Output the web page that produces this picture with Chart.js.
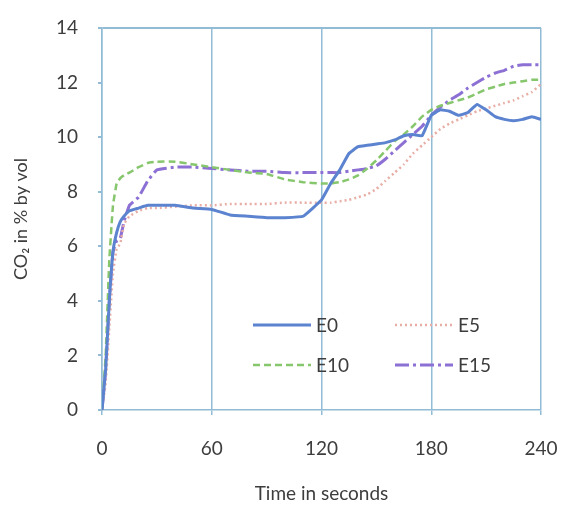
<!DOCTYPE html>
<html>
<head>
<meta charset="utf-8">
<script src="https://cdn.jsdelivr.net/npm/chart.js"></script>
<style>
  body { margin: 0; background: #fff; }
</style>
</head>
<body>
<canvas id="myChart" width="561" height="509"></canvas>
<script>
/* DATA */
const seconds = [0, 2, 4, 6, 8, 10, 12, 15, 20, 25, 30, 40, 50, 60, 70, 80, 90, 100, 110, 120,
  125, 130, 135, 140, 145, 150, 155, 160, 165, 170, 175, 180, 185, 190, 195, 200, 205, 210,
  215, 220, 225, 230, 235, 240]

const e0 = [0, 1.5, 4.0, 5.8, 6.5, 6.9, 7.1, 7.3, 7.4, 7.5, 7.5, 7.5, 7.4, 7.35, 7.15, 7.1, 7.05, 7.05, 7.1, 7.7,
  8.3, 8.8, 9.4, 9.65, 9.7, 9.75, 9.8, 9.9, 10.05, 10.1, 10.05, 10.8, 11.0, 10.95, 10.8, 10.9, 11.2, 11.0,
  10.75, 10.65, 10.6, 10.65, 10.75, 10.65]

const e5 = [0, 1.0, 3.0, 5.0, 5.9, 6.1, 6.8, 7.1, 7.3, 7.4, 7.4, 7.45, 7.5, 7.5, 7.55, 7.55, 7.55, 7.6, 7.6, 7.6,
  7.6, 7.65, 7.7, 7.8, 7.9, 8.1, 8.4, 8.7, 9.0, 9.4, 9.7, 10.0, 10.3, 10.5, 10.65, 10.8, 10.95, 11.05,
  11.15, 11.25, 11.35, 11.5, 11.65, 11.95]

const e10 = [0, 2.0, 5.5, 7.5, 8.3, 8.5, 8.6, 8.7, 8.9, 9.05, 9.1, 9.1, 9.0, 8.9, 8.8, 8.7, 8.65, 8.45, 8.35, 8.3,
  8.3, 8.35, 8.45, 8.6, 8.85, 9.15, 9.5, 9.85, 10.1, 10.4, 10.75, 11.0, 11.15, 11.25, 11.35, 11.45, 11.6, 11.75,
  11.85, 11.95, 12.0, 12.05, 12.1, 12.1]

const e15 = [0, 1.5, 4.0, 5.8, 6.2, 6.3, 6.9, 7.5, 7.8, 8.4, 8.8, 8.9, 8.9, 8.85, 8.8, 8.75, 8.75, 8.7, 8.7, 8.7,
  8.7, 8.7, 8.75, 8.8, 8.85, 8.95, 9.2, 9.5, 9.8, 10.1, 10.4, 10.8, 11.1, 11.35, 11.55, 11.8, 12.0, 12.2,
  12.35, 12.45, 12.6, 12.65, 12.65, 12.65]

const xTicks = [0, 60, 120, 180, 240]
const yTicks = [0, 2, 4, 6, 8, 10, 12, 14]

const FONT = 'Lato'
const axisBlue = '#92bcd6'
const textGrey = '#3d3d3d'

const toPoints = vals => seconds.map((t, i) => ({ x: t, y: vals[i] }))

/* legend drawn inside the plot, two columns */
const insideLegend = {
  id: 'insideLegend',
  afterDatasetsDraw(chart) {
    const { ctx, chartArea } = chart
    const x0 = chartArea.left + 151, colW = 142, y0 = chartArea.top + 297, rowH = 40
    ctx.save()
    ctx.font = '19px ' + FONT
    ctx.textBaseline = 'middle'
    ctx.fillStyle = textGrey
    chart.data.datasets.forEach((ds, i) => {
      const x = x0 + (i % 2) * colW
      const y = y0 + Math.floor(i / 2) * rowH
      ctx.beginPath()
      ctx.strokeStyle = ds.borderColor
      ctx.lineWidth = ds.borderWidth
      ctx.setLineDash(ds.borderDash || [])
      ctx.moveTo(x, y)
      ctx.lineTo(x + 58, y)
      ctx.stroke()
      ctx.setLineDash([])
      ctx.fillText(ds.label, x + 63, y + 1)
    })
    ctx.restore()
  }
}

const ctx = document.getElementById('myChart').getContext('2d')
const myChart = new Chart(ctx, {
  type: 'line',
  data: {
    datasets: [
      { label: 'E0', data: toPoints(e0), borderColor: '#5b83cf', borderWidth: 3 },
      { label: 'E5', data: toPoints(e5), borderColor: '#e8aea6', borderWidth: 2.5, borderDash: [2, 3] },
      { label: 'E10', data: toPoints(e10), borderColor: '#86c66c', borderWidth: 2.5, borderDash: [7, 4] },
      { label: 'E15', data: toPoints(e15), borderColor: '#8c70d4', borderWidth: 3, borderDash: [14, 4, 3, 4] }
    ]
  },
  options: {
    responsive: false,
    animation: false,
    devicePixelRatio: 1,
    elements: { point: { radius: 0 }, line: { tension: 0.1 } },
    layout: { padding: { top: 28, right: 20, left: 0, bottom: 0 } },
    plugins: {
      legend: { display: false },
      tooltip: { enabled: false }
    },
    scales: {
      x: {
        type: 'linear',
        min: 0,
        max: 240,
        afterBuildTicks: scale => { scale.ticks = xTicks.map(v => ({ value: v })) },
        afterFit: scale => {
          scale.height = 99
          scale.paddingLeft = 0
          scale.paddingRight = 0
        },
        border: { color: axisBlue, width: 1.5 },
        grid: { color: axisBlue, lineWidth: 1.5, tickLength: 5, tickColor: axisBlue },
        ticks: { padding: 22, color: textGrey, font: { family: FONT, size: 19 } },
        title: {
          display: true,
          text: 'Time in seconds',
          color: textGrey,
          font: { family: FONT, size: 19 },
          padding: { top: 0, bottom: 4 }
        }
      },
      y: {
        min: 0,
        max: 14,
        afterBuildTicks: scale => { scale.ticks = yTicks.map(v => ({ value: v })) },
        afterFit: scale => {
          scale.width = 102
          scale.paddingTop = 0
          scale.paddingBottom = 0
        },
        border: { color: axisBlue, width: 1.5 },
        grid: {
          color: c => c.tick && c.tick.value === 14 ? axisBlue : 'rgba(0,0,0,0)',
          lineWidth: 2,
          tickLength: 4,
          tickColor: axisBlue
        },
        ticks: { padding: 20, color: textGrey, font: { family: FONT, size: 19 } },
        title: {
          display: true,
          text: 'CO₂ in % by vol',
          color: textGrey,
          font: { family: FONT, size: 18 },
          padding: { top: 10, bottom: 0 }
        }
      }
    }
  },
  plugins: [insideLegend]
})
</script>
</body>
</html>
